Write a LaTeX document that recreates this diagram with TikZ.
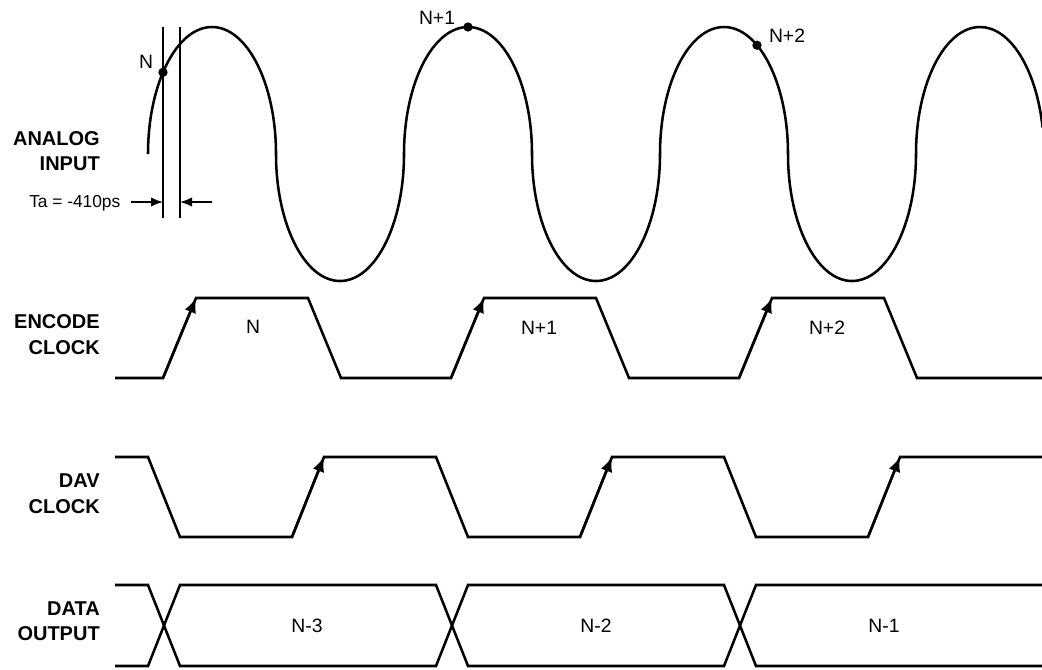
\documentclass[tikz,border=0pt]{standalone}
\usepackage{fontspec}
\setmainfont{Liberation Sans}
\usetikzlibrary{arrows.meta}
\begin{document}
\begin{tikzpicture}[x=0.75pt,y=-0.75pt,
  wave/.style={line width=1.9pt, line join=miter},
  thinline/.style={line width=1pt},
  sig/.style={font=\bfseries\fontsize{15}{18}\selectfont, anchor=base east, inner sep=0pt},
  lbl/.style={font=\fontsize{14.5}{16}\selectfont, inner sep=0pt},
  edgetip/.style={-{Latex[length=11pt,width=9pt]}},
  smalltip/.style={-{Latex[length=9pt,width=7pt]}},
  dot/.style={circle, fill=black, inner sep=0pt, minimum size=7pt},
  up/.style={x radius=48pt, y radius=95.25pt, start angle=180, end angle=0},
  down/.style={x radius=48pt, y radius=95.25pt, start angle=180, end angle=360}
]
\useasboundingbox (0,0) rectangle (1042,669);

% signal names
\node[sig] (l1a) at (100,145) {ANALOG};
\node[sig] (l1b) at (100,170) {INPUT};
\node[sig] (l2a) at (100,328) {ENCODE};
\node[sig] (l2b) at (100,354) {CLOCK};
\node[sig] (l3a) at (100,487) {DAV};
\node[sig] (l3b) at (100,513) {CLOCK};
\node[sig] (l4a) at (100,615) {DATA};
\node[sig] (l4b) at (100,640) {OUTPUT};

% analog input
\draw[wave] (148,154) arc[up] arc[down] arc[up] arc[down] arc[up] arc[down]
  arc[x radius=48pt, y radius=95.25pt, start angle=180, end angle=12];
\node[dot] (dN) at (163,72.3) {};
\node[dot] (dN1) at (468,27) {};
\node[dot] (dN2) at (757,45.2) {};
\node[lbl] (tN) at (146,62) {N};
\node[lbl] (tN1) at (437,18) {N+1};
\node[lbl] (tN2) at (787,36) {N+2};

% aperture lines
\coordinate (v1t) at (163,27); \coordinate (v1b) at (163,218);
\coordinate (v2t) at (180,27); \coordinate (v2b) at (180,218);
\draw[thinline] (v1t) -- (v1b);
\draw[thinline] (v2t) -- (v2b);
\node[font=\fontsize{13}{15}\selectfont, anchor=base west, inner sep=0pt] (ta) at (29,207) {Ta = -410ps};
\coordinate (a1s) at (131,202); \coordinate (a1e) at (163,202);
\coordinate (a2s) at (212,202); \coordinate (a2e) at (180,202);
\draw[thinline, smalltip] (a1s) -- (a1e);
\draw[thinline, smalltip] (a2s) -- (a2e);

% encode clock
\draw[wave] (115,378) -- (163,378) -- (196,298) -- (308,298) -- (341,378)
  -- (451,378) -- (484,298) -- (596,298) -- (629,378)
  -- (739,378) -- (772,298) -- (884,298) -- (917,378) -- (1042,378);
\draw[wave, edgetip] (163,378) -- (196,298);
\draw[wave, edgetip] (451,378) -- (484,298);
\draw[wave, edgetip] (739,378) -- (772,298);
\node[lbl] (eN) at (253,327) {N};
\node[lbl] (eN1) at (539,328) {N+1};
\node[lbl] (eN2) at (827,328) {N+2};

% DAV clock
\draw[wave] (115,457) -- (148,457) -- (180,537) -- (292,537) -- (324,457)
  -- (436,457) -- (468,537) -- (580,537) -- (612,457)
  -- (724,457) -- (756,537) -- (868,537) -- (900,457) -- (1042,457);
\draw[wave, edgetip] (292,537) -- (324,457);
\draw[wave, edgetip] (580,537) -- (612,457);
\draw[wave, edgetip] (868,537) -- (900,457);

% data output
\draw[wave] (115,585) -- (148,585) -- (180,666) -- (436,666) -- (468,585)
  -- (724,585) -- (756,666) -- (1042,666);
\draw[wave] (115,666) -- (148,666) -- (180,585) -- (436,585) -- (468,666)
  -- (724,666) -- (756,585) -- (1042,585);
\node[lbl] (dN3) at (307,626) {N-3};
\node[lbl] (dN2b) at (596,626) {N-2};
\node[lbl] (dN1b) at (884,626) {N-1};
\end{tikzpicture}
\end{document}
